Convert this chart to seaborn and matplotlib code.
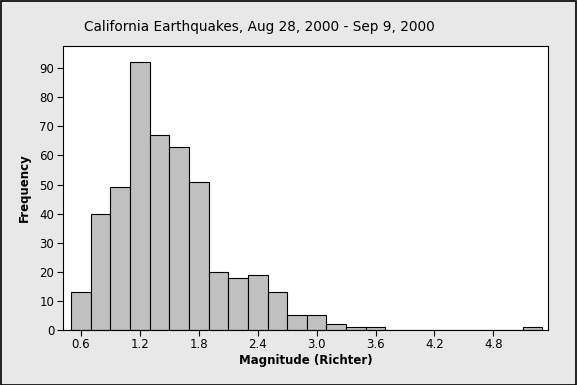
import matplotlib
matplotlib.use("Agg")
import matplotlib.pyplot as plt
import seaborn as sns
import numpy as np
import pandas as pd
from matplotlib.patches import Rectangle

# Data (bin centres, width 0.2)
magnitudes = [0.6, 0.8, 1.0, 1.2, 1.4, 1.6, 1.8, 2.0, 2.2, 2.4, 2.6, 2.8, 3.0, 3.2, 3.4, 3.6, 5.2]
counts = [13, 40, 49, 92, 67, 63, 51, 20, 18, 19, 13, 5, 5, 2, 1, 1, 1]
x_ticks = [0.6, 1.2, 1.8, 2.4, 3.0, 3.6, 4.2, 4.8]
y_ticks = [0, 10, 20, 30, 40, 50, 60, 70, 80, 90]
title = "California Earthquakes, Aug 28, 2000 - Sep 9, 2000"
xlabel = "Magnitude (Richter)"
ylabel = "Frequency"

df = pd.DataFrame({"Magnitude": magnitudes, "Count": counts})

sns.set_theme(style="white")
plt.rcParams["font.family"] = ["DejaVu Sans"]

fig = plt.figure(figsize=(5.77, 3.85), dpi=100)
fig.patch.set_facecolor("#E8E8E8")
ax = fig.add_axes([62.7 / 577, 1 - 330 / 385, (548.3 - 62.7) / 577, (330 - 46) / 385])
ax.set_facecolor("white")

sns.histplot(data=df, x="Magnitude", weights="Count", binwidth=0.2, binrange=(0.5, 5.3),
             color="#C0C0C0", edgecolor="black", linewidth=0.8, alpha=1, ax=ax)

ax.set_xlim(0.414, 5.36)
ax.set_ylim(0, 97.6)
ax.set_xticks(x_ticks)
ax.set_xticklabels([f"{t:.1f}" for t in x_ticks])
ax.set_yticks(y_ticks)
ax.tick_params(axis="both", which="major", direction="out", length=4, width=0.8,
               color="black", labelsize=8.5, labelcolor="black", pad=2,
               bottom=True, left=True)
for s in ax.spines.values():
    s.set_visible(True)
    s.set_color("black")
    s.set_linewidth(0.8)

ax.set_xlabel(xlabel, fontsize=8.5, fontweight="bold", color="black", labelpad=2)
ax.set_ylabel(ylabel, fontsize=8.5, fontweight="bold", color="black", labelpad=6)
fig.text(0.5 * (85 + 433) / 577, 1 - 27 / 385, title, ha="center", va="center",
         fontsize=9.8, color="black")

fig.patches.append(Rectangle((0.001, 0.001), 0.997, 0.997, transform=fig.transFigure,
                             fill=False, edgecolor="black", linewidth=1.2))

fig.savefig("out.png", dpi=100, facecolor=fig.get_facecolor())
